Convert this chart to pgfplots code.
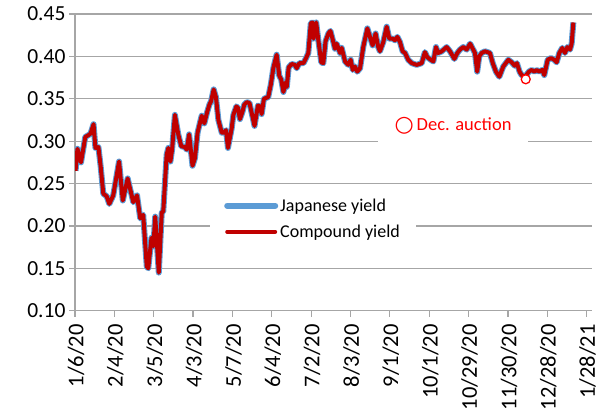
\documentclass[border=0pt]{standalone}
\usepackage{fontspec}
\setmainfont{Carlito}
\newfontfamily\dejavu{DejaVu Sans}
\usepackage{pgfplots}
\usepackage{pgfplotstable}
\pgfplotsset{compat=1.18}
\definecolor{jblue}{RGB}{91,155,213}
\definecolor{cred}{RGB}{192,0,0}
\definecolor{gridgray}{RGB}{166,166,166}
\definecolor{annred}{RGB}{255,0,0}

\pgfplotstableread{
x j c
0.3 0.265 0.265
1.3 0.291 0.291
3.2 0.275 0.275
5.5 0.305 0.305
7.1 0.307 0.307
8.3 0.309 0.309
9.9 0.320 0.320
10.9 0.292 0.292
12.5 0.293 0.293
13.7 0.270 0.270
15.1 0.238 0.238
16.9 0.235 0.235
18.3 0.226 0.226
20.4 0.236 0.236
23.5 0.276 0.276
25.5 0.230 0.230
28.1 0.256 0.256
31.1 0.228 0.228
33.1 0.236 0.236
34.8 0.209 0.209
36.4 0.213 0.213
38.3 0.152 0.152
39.1 0.150 0.150
40.8 0.186 0.186
41.8 0.176 0.176
42.8 0.211 0.211
44.7 0.145 0.145
46.3 0.216 0.216
47.1 0.217 0.217
48.9 0.284 0.284
49.8 0.292 0.292
50.9 0.276 0.276
51.8 0.290 0.290
53.3 0.331 0.331
55.1 0.308 0.308
56.7 0.294 0.294
58.7 0.293 0.293
59.6 0.290 0.290
60.9 0.308 0.308
62.7 0.271 0.271
64.0 0.280 0.280
65.4 0.310 0.310
66.7 0.322 0.322
67.6 0.330 0.330
69.0 0.321 0.321
70.6 0.335 0.335
71.7 0.343 0.343
72.6 0.347 0.347
74.0 0.361 0.361
75.2 0.352 0.352
76.5 0.325 0.325
78.3 0.310 0.310
79.5 0.310 0.310
80.6 0.313 0.313
81.6 0.292 0.292
83.6 0.315 0.315
84.5 0.331 0.331
86.1 0.341 0.341
87.0 0.339 0.339
88.0 0.326 0.326
89.4 0.335 0.335
90.3 0.343 0.343
91.6 0.346 0.346
93.1 0.345 0.345
94.3 0.333 0.333
95.8 0.318 0.318
97.6 0.342 0.342
98.7 0.341 0.341
99.6 0.332 0.332
100.8 0.350 0.350
103.1 0.352 0.352
104.5 0.367 0.367
105.9 0.387 0.387
107.6 0.402 0.402
109.0 0.377 0.377
110.0 0.373 0.373
111.2 0.358 0.358
112.3 0.369 0.369
113.0 0.364 0.364
114.0 0.387 0.387
115.6 0.391 0.391
117.4 0.390 0.390
118.3 0.386 0.386
119.7 0.392 0.392
121.9 0.392 0.392
123.3 0.398 0.398
124.5 0.404 0.404
125.8 0.439 0.439
126.7 0.440 0.440
127.3 0.421 0.421
128.7 0.440 0.440
129.9 0.418 0.418
131.4 0.393 0.393
132.5 0.392 0.392
133.7 0.418 0.418
135.2 0.427 0.427
136.3 0.430 0.430
137.5 0.420 0.420
138.7 0.409 0.409
139.6 0.415 0.415
140.5 0.410 0.410
141.4 0.404 0.404
142.3 0.410 0.410
144.1 0.394 0.394
145.8 0.390 0.390
147.1 0.396 0.396
148.2 0.384 0.384
149.4 0.388 0.388
150.6 0.382 0.382
152.1 0.386 0.386
153.8 0.411 0.411
156.0 0.433 0.433
157.4 0.423 0.423
158.8 0.413 0.413
160.4 0.427 0.427
161.8 0.411 0.411
162.7 0.406 0.406
164.5 0.417 0.417
166.3 0.435 0.435
167.7 0.421 0.421
169.5 0.421 0.421
170.7 0.419 0.419
172.0 0.423 0.423
173.4 0.417 0.417
174.8 0.406 0.406
176.1 0.404 0.404
177.8 0.396 0.396
179.7 0.392 0.392
182.3 0.390 0.390
185.0 0.392 0.392
186.7 0.405 0.405
188.0 0.399 0.399
189.8 0.396 0.396
191.2 0.394 0.394
192.6 0.411 0.411
193.8 0.404 0.404
195.7 0.406 0.406
198.3 0.411 0.411
200.1 0.406 0.406
202.4 0.397 0.397
204.0 0.404 0.404
205.4 0.408 0.408
207.2 0.411 0.411
209.0 0.408 0.408
210.8 0.415 0.415
212.0 0.410 0.410
213.4 0.404 0.404
214.6 0.382 0.382
215.7 0.400 0.400
217.0 0.404 0.404
218.8 0.406 0.406
221.4 0.404 0.404
222.9 0.392 0.392
224.6 0.382 0.382
226.4 0.376 0.376
228.5 0.388 0.388
231.2 0.396 0.396
233.0 0.393 0.393
234.6 0.389 0.389
235.8 0.392 0.392
237.2 0.382 0.382
238.3 0.378 0.378
240.1 0.376 0.376
242.2 0.382 0.382
243.7 0.384 0.384
245.1 0.382 0.382
246.3 0.384 0.384
247.7 0.382 0.382
249.3 0.384 0.384
250.4 0.378 0.378
252.2 0.396 0.396
254.0 0.398 0.398
255.7 0.396 0.396
257.0 0.393 0.393
258.4 0.404 0.404
260.0 0.410 0.410
261.4 0.404 0.404
262.7 0.411 0.411
264.1 0.408 0.408
265.0 0.415 0.415
265.9 0.440 0.440
}\yields

\begin{document}
\begin{tikzpicture}[x=1pt,y=1pt]
\useasboundingbox (0,0) rectangle (601,419);
\begin{axis}[
  at={(75pt,108.3pt)}, anchor=south west,
  scale only axis, width=516.7pt, height=296.7pt,
  xmin=0, xmax=275.7, ymin=0.10, ymax=0.45,
  axis x line*=bottom, axis y line*=left,
  axis line style={gridgray, line width=1.2pt, -},
  xtick={0,21,42,63,84,105,126,147,168,189,210,231,252,273},
  xticklabels={1/6/20,2/4/20,3/5/20,4/3/20,5/7/20,6/4/20,7/2/20,8/3/20,9/1/20,10/1/20,10/29/20,11/30/20,12/28/20,1/28/21},
  ytick={0.10,0.15,0.20,0.25,0.30,0.35,0.40,0.45},
  yticklabels={0.10,0.15,0.20,0.25,0.30,0.35,0.40,0.45},
  ymajorgrids, grid style={gridgray, line width=1.2pt},
  tick align=outside, major tick length=6pt,
  tick style={gridgray, line width=1.2pt},
  x tick label style={rotate=90, anchor=east, font=\fontsize{22.5}{22.5}\selectfont, yshift=-1pt, xshift=-4pt},
  y tick label style={font=\fontsize{21.5}{21.5}\selectfont},
  legend style={at={(0.2613,0.395)}, anchor=north west, draw=none, fill=white,
    inner xsep=14pt, inner ysep=3pt, font=\fontsize{18}{21}\selectfont,
    row sep=8pt},
  legend cell align=left,
  legend image code/.code={\draw[#1,line cap=round] (0pt,0pt) -- (48pt,0pt);},
]
\addplot[jblue, line width=6pt, line join=round] table[x=x,y=j]{\yields};
\addlegendentry{Japanese yield}
\addplot[cred, line width=4pt, line join=round] table[x=x,y=c]{\yields};
\addlegendentry{Compound yield}
\addplot[forget plot, only marks, mark=*, mark size=4.5pt,
  mark options={fill=white, draw=annred, line width=1.3pt}] coordinates {(240.5,0.373)};
\node[fill=white, text=annred, minimum width=150pt, minimum height=34pt,
  font=\fontsize{18.5}{20}\selectfont, inner sep=0pt]
  at (rel axis cs:0.7316,0.6225)
  {{\dejavu\fontsize{22}{22}\selectfont\raisebox{-1.5pt}{○}}\hspace{3pt}Dec. auction};
\end{axis}
\end{tikzpicture}
\end{document}
